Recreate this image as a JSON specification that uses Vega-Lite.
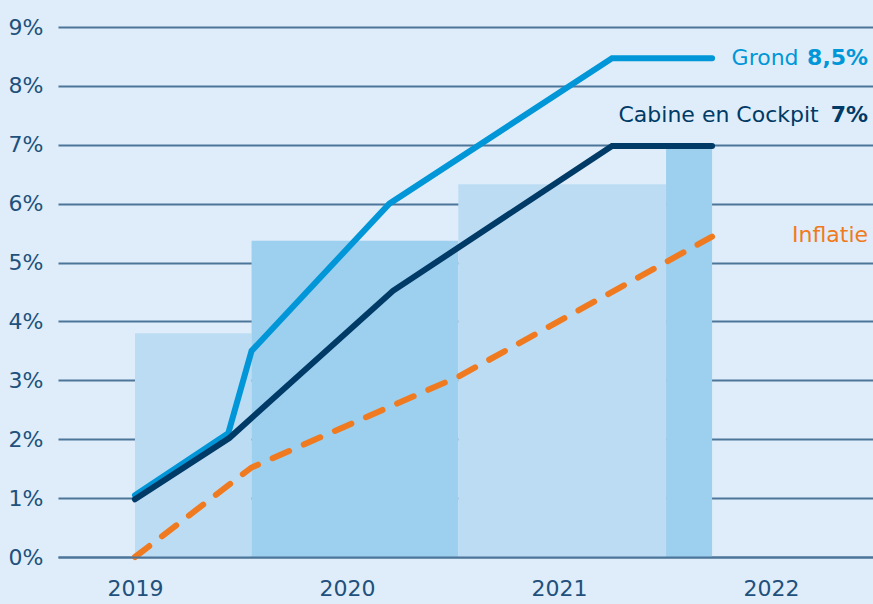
{
  "$schema": "https://vega.github.io/schema/vega-lite/v6.json",
  "width": 815,
  "height": 530,
  "autosize": {"type": "none"},
  "padding": {"left": 58, "top": 27, "right": 0, "bottom": 47},
  "background": "#deedf9",
  "config": {"view": {"stroke": null}, "font": "DejaVu Sans"},
  "datasets": {
    "bars": [
      {"year": 2019, "start": 2019.0, "end": 2019.55, "value": 3.8},
      {"year": 2020, "start": 2019.55, "end": 2020.525, "value": 5.37},
      {"year": 2021, "start": 2020.525, "end": 2021.505, "value": 6.33},
      {"year": 2022, "start": 2021.505, "end": 2021.722, "value": 7.0}
    ],
    "lines": [
      {"series": "Grond", "t": 2019.0, "pct": 1.05},
      {"series": "Grond", "t": 2019.44, "pct": 2.1},
      {"series": "Grond", "t": 2019.55, "pct": 3.5},
      {"series": "Grond", "t": 2020.2, "pct": 6.0},
      {"series": "Grond", "t": 2021.25, "pct": 8.47},
      {"series": "Grond", "t": 2021.722, "pct": 8.47},
      {"series": "Cabine", "t": 2019.0, "pct": 0.98},
      {"series": "Cabine", "t": 2019.445, "pct": 2.02},
      {"series": "Cabine", "t": 2020.217, "pct": 4.52},
      {"series": "Cabine", "t": 2021.25, "pct": 6.98},
      {"series": "Cabine", "t": 2021.722, "pct": 6.98},
      {"series": "Inflatie", "t": 2019.0, "pct": 0.0},
      {"series": "Inflatie", "t": 2019.55, "pct": 1.52},
      {"series": "Inflatie", "t": 2020.53, "pct": 3.07},
      {"series": "Inflatie", "t": 2021.722, "pct": 5.44}
    ],
    "labels": [
      {"series": "Grond", "part": "name", "text": "Grond", "x": 2022.13, "y": 8.47},
      {"series": "Grond", "part": "value", "text": "8,5%", "x": 2022.458, "y": 8.47},
      {"series": "Cabine", "part": "name", "text": "Cabine en Cockpit", "x": 2022.225, "y": 7.5},
      {"series": "Cabine", "part": "value", "text": "7%", "x": 2022.458, "y": 7.5},
      {"series": "Inflatie", "part": "name", "text": "Inflatie", "x": 2022.458, "y": 5.47}
    ]
  },
  "layer": [
    {
      "data": {"name": "bars"},
      "mark": {"type": "rect"},
      "encoding": {
        "x": {
          "field": "start", "type": "quantitative",
          "scale": {"domain": [2018.637, 2022.481], "nice": false, "zero": false},
          "axis": {
            "values": [2019, 2020, 2021, 2022], "format": "d", "title": null,
            "grid": false, "ticks": false, "domain": true, "domainColor": "#4d7499", "domainWidth": 2,
            "labelFontSize": 22, "labelColor": "#21507c", "labelPadding": 21, "zindex": 1
          }
        },
        "x2": {"field": "end"},
        "y": {
          "field": "value", "type": "quantitative",
          "scale": {"domain": [0, 9], "nice": false},
          "axis": {
            "values": [0, 1, 2, 3, 4, 5, 6, 7, 8, 9], "labelExpr": "datum.value + '%'", "title": null,
            "grid": true, "gridColor": "#4d7499", "gridWidth": 2, "gridOpacity": 1,
            "ticks": false, "domain": false,
            "labelFontSize": 22, "labelColor": "#21507c", "labelPadding": 15, "zindex": 0
          }
        },
        "y2": {"datum": 0},
        "color": {
          "field": "year", "type": "nominal", "legend": null,
          "scale": {"domain": [2019, 2020, 2021, 2022], "range": ["#bcdcf4", "#9dcfee", "#bcdcf4", "#9dcfee"]}
        }
      }
    },
    {
      "data": {"name": "lines"},
      "transform": [{"filter": "datum.series === 'Grond'"}],
      "mark": {"type": "line", "color": "#0096d8", "strokeWidth": 6, "strokeCap": "round"},
      "encoding": {
        "x": {"field": "t", "type": "quantitative"},
        "y": {"field": "pct", "type": "quantitative"}
      }
    },
    {
      "data": {"name": "lines"},
      "transform": [{"filter": "datum.series === 'Cabine'"}],
      "mark": {"type": "line", "color": "#003a66", "strokeWidth": 6, "strokeCap": "round"},
      "encoding": {
        "x": {"field": "t", "type": "quantitative"},
        "y": {"field": "pct", "type": "quantitative"}
      }
    },
    {
      "data": {"name": "lines"},
      "transform": [{"filter": "datum.series === 'Inflatie'"}],
      "mark": {"type": "line", "color": "#f07a20", "strokeWidth": 6, "strokeCap": "round", "strokeDash": [18, 16]},
      "encoding": {
        "x": {"field": "t", "type": "quantitative"},
        "y": {"field": "pct", "type": "quantitative"}
      }
    },
    {
      "data": {"name": "labels"},
      "transform": [{"filter": "datum.series === 'Grond' && datum.part === 'name'"}],
      "mark": {"type": "text", "align": "right", "baseline": "middle", "fontSize": 22, "color": "#0096d8"},
      "encoding": {
        "x": {"field": "x", "type": "quantitative"},
        "y": {"field": "y", "type": "quantitative"},
        "text": {"field": "text"}
      }
    },
    {
      "data": {"name": "labels"},
      "transform": [{"filter": "datum.series === 'Grond' && datum.part === 'value'"}],
      "mark": {"type": "text", "align": "right", "baseline": "middle", "fontSize": 22, "fontWeight": "bold", "color": "#0096d8"},
      "encoding": {
        "x": {"field": "x", "type": "quantitative"},
        "y": {"field": "y", "type": "quantitative"},
        "text": {"field": "text"}
      }
    },
    {
      "data": {"name": "labels"},
      "transform": [{"filter": "datum.series === 'Cabine' && datum.part === 'name'"}],
      "mark": {"type": "text", "align": "right", "baseline": "middle", "fontSize": 22, "color": "#003a66"},
      "encoding": {
        "x": {"field": "x", "type": "quantitative"},
        "y": {"field": "y", "type": "quantitative"},
        "text": {"field": "text"}
      }
    },
    {
      "data": {"name": "labels"},
      "transform": [{"filter": "datum.series === 'Cabine' && datum.part === 'value'"}],
      "mark": {"type": "text", "align": "right", "baseline": "middle", "fontSize": 22, "fontWeight": "bold", "color": "#003a66"},
      "encoding": {
        "x": {"field": "x", "type": "quantitative"},
        "y": {"field": "y", "type": "quantitative"},
        "text": {"field": "text"}
      }
    },
    {
      "data": {"name": "labels"},
      "transform": [{"filter": "datum.series === 'Inflatie'"}],
      "mark": {"type": "text", "align": "right", "baseline": "middle", "fontSize": 22, "color": "#f07a20"},
      "encoding": {
        "x": {"field": "x", "type": "quantitative"},
        "y": {"field": "y", "type": "quantitative"},
        "text": {"field": "text"}
      }
    }
  ]
}
